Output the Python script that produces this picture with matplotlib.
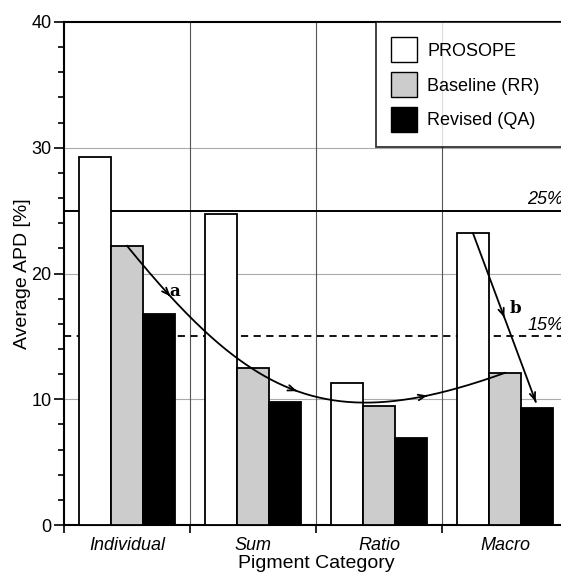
import numpy as np
import matplotlib.pyplot as plt
from matplotlib.patches import Patch

plt.rcParams['font.family'] = ['Liberation Sans', 'DejaVu Sans']

categories = ['Individual', 'Sum', 'Ratio', 'Macro']
series_names = ['PROSOPE', 'Baseline (RR)', 'Revised (QA)']
prosope = [29.3, 24.7, 11.3, 23.2]
baseline = [22.2, 12.5, 9.5, 12.1]
revised = [16.8, 9.8, 6.9, 9.3]
bar_colors = ['white', '#cccccc', 'black']

fig = plt.figure(figsize=(5.61, 5.74), dpi=100)
ax = fig.add_axes([64 / 561, 1 - 525 / 574, 504 / 561, 503 / 574])

x = np.arange(len(categories))
w = 0.254
for i, (vals, col) in enumerate(zip([prosope, baseline, revised], bar_colors)):
    ax.bar(x + (i - 1) * w, vals, w, color=col, edgecolor='black', linewidth=1.3, zorder=3)

ax.set_xlim(-0.5, 3.5)
ax.set_ylim(0, 40)

# grid
for yv in [10, 20, 30]:
    ax.axhline(yv, color='#aaaaaa', lw=0.8, zorder=1)
for xv in [0.5, 1.5, 2.5]:
    ax.axvline(xv, color='#555555', lw=0.8, zorder=1)

# reference lines
ax.axhline(25, color='black', lw=1.4, zorder=2)
ax.axhline(15, color='black', lw=1.3, ls=(0, (4, 3)), zorder=2)
ax.text(3.175, 25.2, '25%', style='italic', fontsize=13, ha='left', va='bottom')
ax.text(3.18, 15.2, '15%', style='italic', fontsize=13, ha='left', va='bottom')

# curved arrow from Individual baseline to Macro baseline
P = np.array([[0.0, baseline[0]], [1.0, 9.9], [1.6, 7.06], [3.0, baseline[3]]])


def bez(t):
    t = np.asarray(t)[:, None]
    return ((1 - t) ** 3) * P[0] + 3 * (1 - t) ** 2 * t * P[1] + 3 * (1 - t) * t ** 2 * P[2] + t ** 3 * P[3]


tt = np.linspace(0, 1, 200)
c = bez(tt)
ax.plot(c[:, 0], c[:, 1], color='black', lw=1.3, zorder=5)
for t in [0.12, 0.5, 0.84]:
    p0, p1 = bez([t - 0.01, t])
    ax.annotate('', xy=p1, xytext=p0,
                arrowprops=dict(arrowstyle='->,head_length=0.5,head_width=0.2', color='black', lw=1.3),
                zorder=6)

# straight arrow b
b0 = np.array([3 - w, prosope[3]])
b1 = np.array([3 + w - 0.01, revised[3] + 0.5])
ax.plot([b0[0], b1[0]], [b0[1], b1[1]], color='black', lw=1.3, zorder=5)
for f in [0.5, 1.0]:
    pe = b0 + f * (b1 - b0)
    ps = b0 + (f - 0.02) * (b1 - b0)
    ax.annotate('', xy=pe, xytext=ps,
                arrowprops=dict(arrowstyle='->,head_length=0.5,head_width=0.2', color='black', lw=1.3),
                zorder=6)

ax.text(0.34, 18.6, 'a', family='DejaVu Serif', fontweight='bold', fontsize=12, ha='left', va='center', zorder=7)
ax.text(3.04, 17.2, 'b', family='DejaVu Serif', fontweight='bold', fontsize=12, ha='left', va='center', zorder=7)

# ticks
ax.set_yticks([0, 10, 20, 30, 40])
ax.set_yticks(np.arange(0, 41, 2), minor=True)
ax.set_xticks([-0.5, 0.5, 1.5, 2.5, 3.5])
ax.set_xticklabels([])
ax.set_xticks(x, minor=True)
ax.set_xticklabels(categories, minor=True, style='italic', fontsize=13)
ax.tick_params(axis='x', which='minor', length=0, pad=9)
ax.tick_params(axis='x', which='major', length=6, width=1.2)
ax.tick_params(axis='y', which='major', length=7, width=1.2, labelsize=13, pad=2)
ax.tick_params(axis='y', which='minor', length=4, width=1.2)
for s in ax.spines.values():
    s.set_linewidth(1.5)

ax.set_ylabel('Average APD [%]', fontsize=14, labelpad=0)
ax.set_xlabel('Pigment Category', fontsize=14, labelpad=0)

handles = [Patch(facecolor=cl, edgecolor='black', lw=1.0) for cl in bar_colors]
leg = ax.legend(handles, series_names, loc='upper left', mode='expand',
                bbox_to_anchor=((376 - 64) / 504, 0, 0.5, 1.0),
                fontsize=13, frameon=True, fancybox=False, edgecolor='black',
                handlelength=1.4, handleheight=1.75, labelspacing=0.55, borderpad=0.85,
                handletextpad=0.6, borderaxespad=0)
leg.get_frame().set_linewidth(1.3)
leg.set_zorder(10)

fig.savefig('out.png', dpi=100)
